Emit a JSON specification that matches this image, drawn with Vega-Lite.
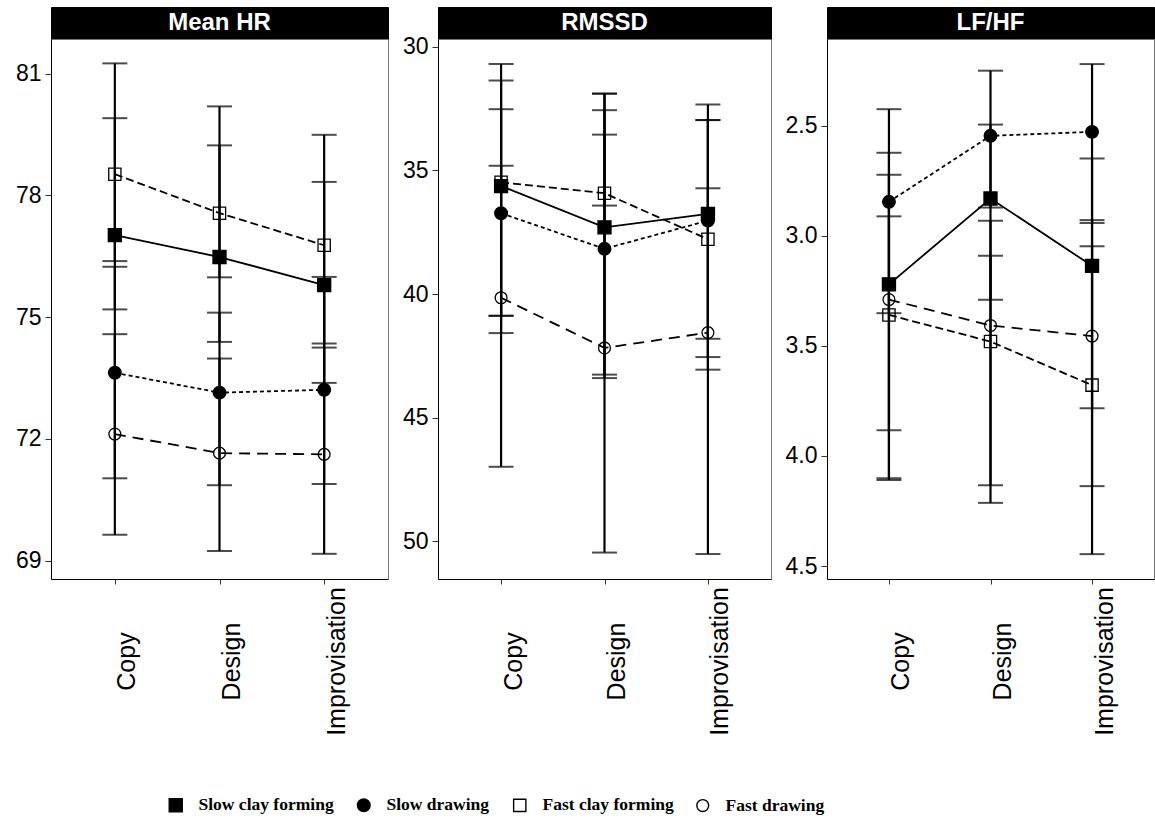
{
  "$schema": "https://vega.github.io/schema/vega-lite/v6.json",
  "padding": {"left": 14, "top": 6, "right": 0, "bottom": 0},
  "background": "white",
  "datasets": {
    "d": [
      {"panel": "Mean HR", "task": "Copy", "group": "Slow clay forming", "mean": 77.02, "lo": 75.19, "hi": 79.90},
      {"panel": "Mean HR", "task": "Copy", "group": "Slow drawing", "mean": 73.63, "lo": 71.03, "hi": 76.24},
      {"panel": "Mean HR", "task": "Copy", "group": "Fast clay forming", "mean": 78.52, "lo": 76.38, "hi": 81.25},
      {"panel": "Mean HR", "task": "Copy", "group": "Fast drawing", "mean": 72.12, "lo": 69.64, "hi": 74.58},
      {"panel": "Mean HR", "task": "Design", "group": "Slow clay forming", "mean": 76.48, "lo": 74.39, "hi": 79.23},
      {"panel": "Mean HR", "task": "Design", "group": "Slow drawing", "mean": 73.14, "lo": 70.86, "hi": 75.11},
      {"panel": "Mean HR", "task": "Design", "group": "Fast clay forming", "mean": 77.56, "lo": 75.98, "hi": 80.19},
      {"panel": "Mean HR", "task": "Design", "group": "Fast drawing", "mean": 71.65, "lo": 69.24, "hi": 73.98},
      {"panel": "Mean HR", "task": "Improvisation", "group": "Slow clay forming", "mean": 75.79, "lo": 73.38, "hi": 78.33},
      {"panel": "Mean HR", "task": "Improvisation", "group": "Slow drawing", "mean": 73.21, "lo": 70.89, "hi": 75.99},
      {"panel": "Mean HR", "task": "Improvisation", "group": "Fast clay forming", "mean": 76.77, "lo": 74.35, "hi": 79.49},
      {"panel": "Mean HR", "task": "Improvisation", "group": "Fast drawing", "mean": 71.62, "lo": 69.17, "hi": 74.25},
      {"panel": "RMSSD", "task": "Copy", "group": "Slow clay forming", "mean": 35.63, "lo": 30.69, "hi": 40.88},
      {"panel": "RMSSD", "task": "Copy", "group": "Slow drawing", "mean": 36.73, "lo": 32.52, "hi": 40.88},
      {"panel": "RMSSD", "task": "Copy", "group": "Fast clay forming", "mean": 35.48, "lo": 31.36, "hi": 41.58},
      {"panel": "RMSSD", "task": "Copy", "group": "Fast drawing", "mean": 40.15, "lo": 34.81, "hi": 46.99},
      {"panel": "RMSSD", "task": "Design", "group": "Slow clay forming", "mean": 37.30, "lo": 31.89, "hi": 43.26},
      {"panel": "RMSSD", "task": "Design", "group": "Slow drawing", "mean": 38.17, "lo": 32.56, "hi": 43.40},
      {"panel": "RMSSD", "task": "Design", "group": "Fast clay forming", "mean": 35.92, "lo": 31.89, "hi": 36.42},
      {"panel": "RMSSD", "task": "Design", "group": "Fast drawing", "mean": 42.18, "lo": 33.55, "hi": 50.46},
      {"panel": "RMSSD", "task": "Improvisation", "group": "Slow clay forming", "mean": 36.76, "lo": 32.96, "hi": 41.81},
      {"panel": "RMSSD", "task": "Improvisation", "group": "Slow drawing", "mean": 37.03, "lo": 35.72, "hi": 43.06},
      {"panel": "RMSSD", "task": "Improvisation", "group": "Fast clay forming", "mean": 37.78, "lo": 32.96, "hi": 42.55},
      {"panel": "RMSSD", "task": "Improvisation", "group": "Fast drawing", "mean": 41.56, "lo": 32.33, "hi": 50.52},
      {"panel": "LF/HF", "task": "Copy", "group": "Slow clay forming", "mean": 3.22, "lo": 2.424, "hi": 4.101},
      {"panel": "LF/HF", "task": "Copy", "group": "Slow drawing", "mean": 2.845, "lo": 2.622, "hi": 3.351},
      {"panel": "LF/HF", "task": "Copy", "group": "Fast clay forming", "mean": 3.359, "lo": 2.911, "hi": 3.883},
      {"panel": "LF/HF", "task": "Copy", "group": "Fast drawing", "mean": 3.289, "lo": 2.722, "hi": 4.109},
      {"panel": "LF/HF", "task": "Design", "group": "Slow clay forming", "mean": 2.83, "lo": 2.494, "hi": 3.29},
      {"panel": "LF/HF", "task": "Design", "group": "Slow drawing", "mean": 2.545, "lo": 2.249, "hi": 2.871},
      {"panel": "LF/HF", "task": "Design", "group": "Fast clay forming", "mean": 3.48, "lo": 3.09, "hi": 4.213},
      {"panel": "LF/HF", "task": "Design", "group": "Fast drawing", "mean": 3.407, "lo": 2.931, "hi": 4.133},
      {"panel": "LF/HF", "task": "Improvisation", "group": "Slow clay forming", "mean": 3.136, "lo": 2.648, "hi": 3.783},
      {"panel": "LF/HF", "task": "Improvisation", "group": "Slow drawing", "mean": 2.527, "lo": 2.219, "hi": 2.941},
      {"panel": "LF/HF", "task": "Improvisation", "group": "Fast clay forming", "mean": 3.678, "lo": 3.047, "hi": 4.446},
      {"panel": "LF/HF", "task": "Improvisation", "group": "Fast drawing", "mean": 3.455, "lo": 2.928, "hi": 4.137}
    ]
  },
  "hconcat": [
    {
      "spacing": 0,
      "bounds": "flush",
      "vconcat": [
        {
          "width": 337, "height": 32,
          "data": {"values": [{"t": "Mean HR"}]},
          "view": {"fill": "black", "stroke": "black"},
          "mark": {"type": "text", "color": "white", "fontWeight": "bold", "fontSize": 24, "font": "Liberation Sans", "align": "center", "baseline": "middle"},
          "encoding": {"text": {"field": "t"}}
        },
        {
          "width": 337, "height": 540,
          "data": {"name": "d"},
          "transform": [{"filter": "datum.panel === 'Mean HR'"}],
          "encoding": {
            "x": {"field": "task", "type": "nominal", "title": null,
              "scale": {"type": "point", "padding": 0.61, "domain": ["Copy", "Design", "Improvisation"]}}
          },
          "layer": [
            {"mark": {"type": "rule", "color": "black", "strokeWidth": 2.2},
             "encoding": {"y": {"field": "lo", "type": "quantitative", "title": null,
               "scale": {"domain": [68.55, 81.85], "nice": false, "zero": false},
               "axis": {"values": [69, 72, 75, 78, 81]}},
               "y2": {"field": "hi"}}},
            {"mark": {"type": "tick", "color": "black", "size": 25, "thickness": 2},
             "encoding": {"y": {"field": "lo", "type": "quantitative", "title": null}}},
            {"mark": {"type": "tick", "color": "black", "size": 25, "thickness": 2},
             "encoding": {"y": {"field": "hi", "type": "quantitative", "title": null}}},
            {"transform": [{"filter": "datum.group === 'Slow clay forming'"}],
             "mark": {"type": "line", "color": "black", "strokeWidth": 1.8},
             "encoding": {"y": {"field": "mean", "type": "quantitative", "title": null}}},
            {"transform": [{"filter": "datum.group === 'Slow drawing'"}],
             "mark": {"type": "line", "color": "black", "strokeWidth": 1.8, "strokeDash": [4, 3]},
             "encoding": {"y": {"field": "mean", "type": "quantitative", "title": null}}},
            {"transform": [{"filter": "datum.group === 'Fast clay forming'"}],
             "mark": {"type": "line", "color": "black", "strokeWidth": 1.8, "strokeDash": [8, 4]},
             "encoding": {"y": {"field": "mean", "type": "quantitative", "title": null}}},
            {"transform": [{"filter": "datum.group === 'Fast drawing'"}],
             "mark": {"type": "line", "color": "black", "strokeWidth": 1.8, "strokeDash": [11, 7]},
             "encoding": {"y": {"field": "mean", "type": "quantitative", "title": null}}},
            {"mark": {"type": "point", "filled": true, "strokeWidth": 1.3, "opacity": 1},
             "encoding": {"y": {"field": "mean", "type": "quantitative", "title": null},
               "shape": {"field": "group", "type": "nominal", "title": null,
                 "scale": {"domain": ["Slow clay forming", "Slow drawing", "Fast clay forming", "Fast drawing"], "range": ["square", "circle", "square", "circle"]},
                 "legend": {"orient": "none", "legendX": 116, "legendY": 789, "direction": "horizontal", "columns": 4, "columnPadding": 20}},
               "fill": {"field": "group", "type": "nominal", "title": null,
                 "scale": {"domain": ["Slow clay forming", "Slow drawing", "Fast clay forming", "Fast drawing"], "range": ["black", "black", "transparent", "transparent"]}},
               "stroke": {"field": "group", "type": "nominal", "title": null,
                 "scale": {"domain": ["Slow clay forming", "Slow drawing", "Fast clay forming", "Fast drawing"], "range": ["black", "black", "black", "black"]}},
               "size": {"field": "group", "type": "nominal", "title": null,
                 "scale": {"domain": ["Slow clay forming", "Slow drawing", "Fast clay forming", "Fast drawing"], "range": [170, 140, 175, 110]}}}}
          ]
        }
      ]
    },
    {
      "spacing": 0,
      "bounds": "flush",
      "vconcat": [
        {
          "width": 333, "height": 32,
          "data": {"values": [{"t": "RMSSD"}]},
          "view": {"fill": "black", "stroke": "black"},
          "mark": {"type": "text", "color": "white", "fontWeight": "bold", "fontSize": 24, "font": "Liberation Sans", "align": "center", "baseline": "middle"},
          "encoding": {"text": {"field": "t"}}
        },
        {
          "width": 333, "height": 540,
          "data": {"name": "d"},
          "transform": [{"filter": "datum.panel === 'RMSSD'"}],
          "encoding": {
            "x": {"field": "task", "type": "nominal", "title": null,
              "scale": {"type": "point", "padding": 0.61, "domain": ["Copy", "Design", "Improvisation"]}}
          },
          "layer": [
            {"mark": {"type": "rule", "color": "black", "strokeWidth": 2.2},
             "encoding": {"y": {"field": "lo", "type": "quantitative", "title": null,
               "scale": {"domain": [29.68, 51.53], "nice": false, "zero": false, "reverse": true},
               "axis": {"values": [30, 35, 40, 45, 50]}},
               "y2": {"field": "hi"}}},
            {"mark": {"type": "tick", "color": "black", "size": 25, "thickness": 2},
             "encoding": {"y": {"field": "lo", "type": "quantitative", "title": null}}},
            {"mark": {"type": "tick", "color": "black", "size": 25, "thickness": 2},
             "encoding": {"y": {"field": "hi", "type": "quantitative", "title": null}}},
            {"transform": [{"filter": "datum.group === 'Slow clay forming'"}],
             "mark": {"type": "line", "color": "black", "strokeWidth": 1.8},
             "encoding": {"y": {"field": "mean", "type": "quantitative", "title": null}}},
            {"transform": [{"filter": "datum.group === 'Slow drawing'"}],
             "mark": {"type": "line", "color": "black", "strokeWidth": 1.8, "strokeDash": [4, 3]},
             "encoding": {"y": {"field": "mean", "type": "quantitative", "title": null}}},
            {"transform": [{"filter": "datum.group === 'Fast clay forming'"}],
             "mark": {"type": "line", "color": "black", "strokeWidth": 1.8, "strokeDash": [8, 4]},
             "encoding": {"y": {"field": "mean", "type": "quantitative", "title": null}}},
            {"transform": [{"filter": "datum.group === 'Fast drawing'"}],
             "mark": {"type": "line", "color": "black", "strokeWidth": 1.8, "strokeDash": [11, 7]},
             "encoding": {"y": {"field": "mean", "type": "quantitative", "title": null}}},
            {"mark": {"type": "point", "filled": true, "strokeWidth": 1.3, "opacity": 1},
             "encoding": {"y": {"field": "mean", "type": "quantitative", "title": null},
               "shape": {"field": "group", "type": "nominal", "title": null,
                 "scale": {"domain": ["Slow clay forming", "Slow drawing", "Fast clay forming", "Fast drawing"], "range": ["square", "circle", "square", "circle"]},
                 "legend": {"orient": "none", "legendX": 116, "legendY": 789, "direction": "horizontal", "columns": 4, "columnPadding": 20}},
               "fill": {"field": "group", "type": "nominal", "title": null,
                 "scale": {"domain": ["Slow clay forming", "Slow drawing", "Fast clay forming", "Fast drawing"], "range": ["black", "black", "transparent", "transparent"]}},
               "stroke": {"field": "group", "type": "nominal", "title": null,
                 "scale": {"domain": ["Slow clay forming", "Slow drawing", "Fast clay forming", "Fast drawing"], "range": ["black", "black", "black", "black"]}},
               "size": {"field": "group", "type": "nominal", "title": null,
                 "scale": {"domain": ["Slow clay forming", "Slow drawing", "Fast clay forming", "Fast drawing"], "range": [170, 140, 175, 110]}}}}
          ]
        }
      ]
    },
    {
      "spacing": 0,
      "bounds": "flush",
      "vconcat": [
        {
          "width": 327, "height": 32,
          "data": {"values": [{"t": "LF/HF"}]},
          "view": {"fill": "black", "stroke": "black"},
          "mark": {"type": "text", "color": "white", "fontWeight": "bold", "fontSize": 24, "font": "Liberation Sans", "align": "center", "baseline": "middle"},
          "encoding": {"text": {"field": "t"}}
        },
        {
          "width": 327, "height": 540,
          "data": {"name": "d"},
          "transform": [{"filter": "datum.panel === 'LF/HF'"}],
          "encoding": {
            "x": {"field": "task", "type": "nominal", "title": null,
              "scale": {"type": "point", "padding": 0.61, "domain": ["Copy", "Design", "Improvisation"]}}
          },
          "layer": [
            {"mark": {"type": "rule", "color": "black", "strokeWidth": 2.2},
             "encoding": {"y": {"field": "lo", "type": "quantitative", "title": null,
               "scale": {"domain": [2.105, 4.559], "nice": false, "zero": false, "reverse": true},
               "axis": {"values": [2.5, 3.0, 3.5, 4.0, 4.5], "format": ".1f"}},
               "y2": {"field": "hi"}}},
            {"mark": {"type": "tick", "color": "black", "size": 25, "thickness": 2},
             "encoding": {"y": {"field": "lo", "type": "quantitative", "title": null}}},
            {"mark": {"type": "tick", "color": "black", "size": 25, "thickness": 2},
             "encoding": {"y": {"field": "hi", "type": "quantitative", "title": null}}},
            {"transform": [{"filter": "datum.group === 'Slow clay forming'"}],
             "mark": {"type": "line", "color": "black", "strokeWidth": 1.8},
             "encoding": {"y": {"field": "mean", "type": "quantitative", "title": null}}},
            {"transform": [{"filter": "datum.group === 'Slow drawing'"}],
             "mark": {"type": "line", "color": "black", "strokeWidth": 1.8, "strokeDash": [4, 3]},
             "encoding": {"y": {"field": "mean", "type": "quantitative", "title": null}}},
            {"transform": [{"filter": "datum.group === 'Fast clay forming'"}],
             "mark": {"type": "line", "color": "black", "strokeWidth": 1.8, "strokeDash": [8, 4]},
             "encoding": {"y": {"field": "mean", "type": "quantitative", "title": null}}},
            {"transform": [{"filter": "datum.group === 'Fast drawing'"}],
             "mark": {"type": "line", "color": "black", "strokeWidth": 1.8, "strokeDash": [11, 7]},
             "encoding": {"y": {"field": "mean", "type": "quantitative", "title": null}}},
            {"mark": {"type": "point", "filled": true, "strokeWidth": 1.3, "opacity": 1},
             "encoding": {"y": {"field": "mean", "type": "quantitative", "title": null},
               "shape": {"field": "group", "type": "nominal", "title": null,
                 "scale": {"domain": ["Slow clay forming", "Slow drawing", "Fast clay forming", "Fast drawing"], "range": ["square", "circle", "square", "circle"]},
                 "legend": {"orient": "none", "legendX": 116, "legendY": 789, "direction": "horizontal", "columns": 4, "columnPadding": 20}},
               "fill": {"field": "group", "type": "nominal", "title": null,
                 "scale": {"domain": ["Slow clay forming", "Slow drawing", "Fast clay forming", "Fast drawing"], "range": ["black", "black", "transparent", "transparent"]}},
               "stroke": {"field": "group", "type": "nominal", "title": null,
                 "scale": {"domain": ["Slow clay forming", "Slow drawing", "Fast clay forming", "Fast drawing"], "range": ["black", "black", "black", "black"]}},
               "size": {"field": "group", "type": "nominal", "title": null,
                 "scale": {"domain": ["Slow clay forming", "Slow drawing", "Fast clay forming", "Fast drawing"], "range": [170, 140, 175, 110]}}}}
          ]
        }
      ]
    }
  ],
  "spacing": 12,
  "resolve": {"scale": {"shape": "shared", "fill": "shared", "size": "shared", "stroke": "shared"}},
  "config": {
    "view": {"stroke": "#777", "strokeWidth": 1},
    "font": "Liberation Sans",
    "axis": {"grid": false, "domainColor": "black", "domainWidth": 1, "tickColor": "#333", "labelColor": "black", "labelFont": "Liberation Sans"},
    "axisX": {"labelAngle": -90, "labelAlign": "center", "labelBaseline": "top", "labelPadding": 77, "tickSize": 5, "labelFontSize": 25, "labelOverlap": false},
    "axisY": {"labelFontSize": 23, "tickSize": 6, "labelPadding": 4},
    "legend": {
      "title": null, "padding": 0,
      "labelFont": "Liberation Serif", "labelFontWeight": "bold", "labelFontSize": 17.5, "labelColor": "black",
      "symbolStrokeWidth": 1.4, "labelOffset": 14
    }
  }
}
